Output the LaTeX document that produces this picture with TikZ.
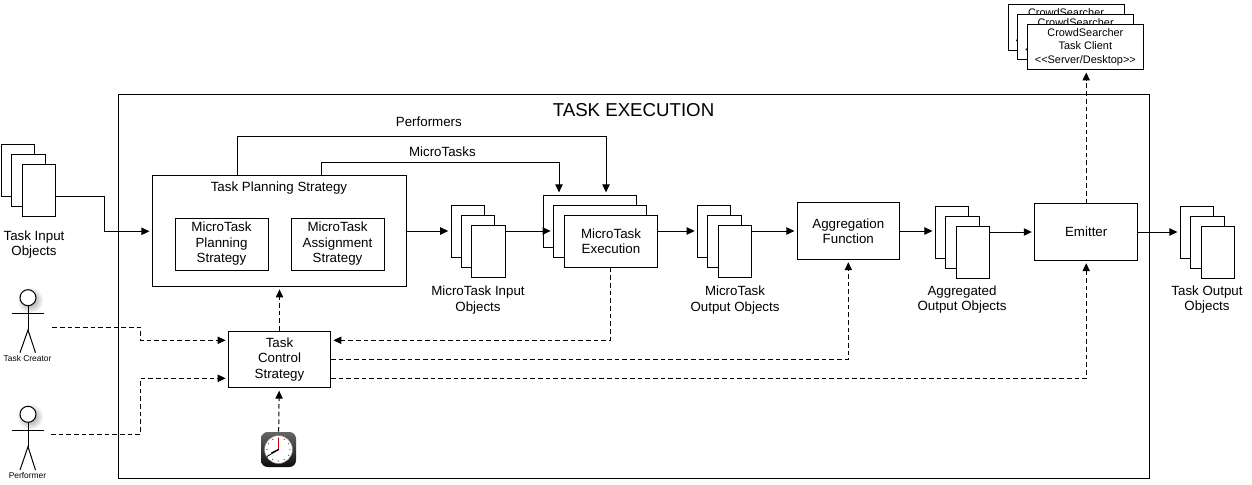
\documentclass[tikz,border=0pt]{standalone}
\usepackage{fontspec}
\setmainfont{Liberation Sans}
\usepackage{xcolor}
\usetikzlibrary{arrows.meta, positioning, calc}

\begin{document}
\begin{tikzpicture}[
    x=0.75pt,
    y=-0.75pt,
    >={Triangle[length=6pt,width=5.5pt]},
    every node/.style={align=center, font=\fontsize{10}{11.6}\selectfont}
]
    % Define styles
    \tikzstyle{box} = [rectangle, draw=black, fill=white, line width=0.75pt, inner sep=0pt, text centered]
    \tikzstyle{docsheet} = [box, minimum width=25pt, minimum height=39pt]
    \tikzstyle{wide} = [box, minimum width=69.75pt, minimum height=39pt]
    \tikzstyle{client} = [box, minimum width=87pt, minimum height=34pt, font=\fontsize{8.2}{10.3}\selectfont]
    \tikzstyle{tiny} = [font=\fontsize{6.3}{7}\selectfont]
    \tikzstyle{arrow} = [line width=0.75pt, ->, shorten >=1.8pt]
    \tikzstyle{dasharrow} = [arrow, dash pattern=on 3.5pt off 2.25pt]
    \tikzstyle{stick} = [line width=0.75pt]
    \tikzstyle{head} = [circle, draw=black, fill=white, line width=0.75pt, inner sep=0pt, minimum size=12pt]

    \useasboundingbox (0,0) rectangle (1252,485);

    % Outer frame
    \node [box, minimum width=773.25pt, minimum height=288pt] (frame) at (633.7,286.6) {};
    \node [font=\fontsize{14}{16}\selectfont] (title) at (633.5,110) {TASK EXECUTION};

    % Task input objects
    \node [docsheet] (inputa) at (18,170) {};
    \node [docsheet, below right=7.75pt and 7.75pt of inputa.north west] (inputb) {};
    \node [docsheet, below right=7.75pt and 7.75pt of inputb.north west] (inputc) {};
    \node (inputlabel) at (34,244.5) {Task Input\\Objects};

    % Planning strategy
    \node [box, minimum width=190.75pt, minimum height=83.25pt] (planning) at (279.5,231) {};
    \node (planninglabel) at (279,188) {Task Planning Strategy};
    \node [wide] (microplan) at (221.5,244) {MicroTask\\Planning\\Strategy};
    \node [wide, right=16.5pt of microplan] (microassign) {MicroTask\\Assignment\\Strategy};

    % MicroTask input objects
    \node [docsheet] (microina) at (467.8,231.3) {};
    \node [docsheet, below right=7.75pt and 7.75pt of microina.north west] (microinb) {};
    \node [docsheet, below right=7.75pt and 7.75pt of microinb.north west] (microinc) {};
    \node (microinlabel) at (478,300) {MicroTask Input\\Objects};

    % MicroTask execution
    \node [wide] (execa) at (590,221.3) {};
    \node [wide, below right=7.5pt and 7.5pt of execa.north west] (execb) {};
    \node [wide, below right=7.5pt and 8.25pt of execb.north west] (execc) {MicroTask\\Execution};

    % MicroTask output objects
    \node [docsheet] (microouta) at (714.3,231.3) {};
    \node [docsheet, below right=7.75pt and 7.75pt of microouta.north west] (microoutb) {};
    \node [docsheet, below right=7.75pt and 7.75pt of microoutb.north west] (microoutc) {};
    \node (microoutlabel) at (735,300) {MicroTask\\Output Objects};

    % Aggregation
    \node [box, minimum width=76.5pt, minimum height=42.5pt] (aggregation) at (848.3,231) {Aggregation\\Function};
    \node [docsheet] (aggra) at (952,232) {};
    \node [docsheet, below right=7.75pt and 7.75pt of aggra.north west] (aggrb) {};
    \node [docsheet, below right=7.75pt and 7.75pt of aggrb.north west] (aggrc) {};
    \node (aggrlabel) at (962,299.5) {Aggregated\\Output Objects};

    % Emitter
    \node [box, minimum width=77.25pt, minimum height=42.5pt] (emitter) at (1086.2,232) {Emitter};

    % Task output objects
    \node [docsheet] (outputa) at (1197,232) {};
    \node [docsheet, below right=7.75pt and 7.75pt of outputa.north west] (outputb) {};
    \node [docsheet, below right=7.75pt and 7.75pt of outputb.north west] (outputc) {};
    \node (outputlabel) at (1207,299.5) {Task Output\\Objects};

    % Clients
    \node [client] (clienta) at (1066,27.6) {CrowdSearcher\\Task Client\\<{}<Server/Desktop>{}>};
    \node [client, below right=7.25pt and 7.25pt of clienta.north west] (clientb) {CrowdSearcher\\Task Client\\<{}<Server/Desktop>{}>};
    \node [client, below right=7.25pt and 7.25pt of clientb.north west] (clientc) {CrowdSearcher\\Task Client\\<{}<Server/Desktop>{}>};

    % Control strategy
    \node [box, minimum width=76.5pt, minimum height=42.5pt, below=32.7pt of planning] (control) {Task\\Control\\Strategy};

    % Task creator
    \shade [inner color=black!45, outer color=white] (30,300) circle (10pt);
    \node [head] (creatorhead) at (28,297.7) {};
    \coordinate (creatorhip) at (28,330);
    \draw [stick] (creatorhead) -- (creatorhip);
    \draw [stick] (12,313.3) -- (44,313.3);
    \draw [stick] (20,352.7) -- (creatorhip) -- (35.5,352.7);
    \node [tiny] (creatorlabel) at (27.5,358) {Task Creator};
    \coordinate (creatorout) at (52.3,327.3);

    % Performer
    \shade [inner color=black!45, outer color=white] (30,416.6) circle (10pt);
    \node [head] (performerhead) at (28,414.3) {};
    \coordinate (performerhip) at (28,446.7);
    \draw [stick] (performerhead) -- (performerhip);
    \draw [stick] (12,430.3) -- (44,430.3);
    \draw [stick] (20,470) -- (performerhip) -- (35.5,470);
    \node [tiny] (performerlabel) at (27.5,475) {Performer};
    \coordinate (performerout) at (51,434.3);

    % Clock
    \node [rectangle, rounded corners=5pt, top color=black!60, bottom color=black!95, minimum size=26.25pt, inner sep=0pt] (clock) at (278.5,449.5) {};
    \fill [white] (clock.center) circle (10.5pt);
    \draw [black!50, line width=0.4pt] (clock.center) circle (10.5pt);
    \foreach \angle in {0,30,...,330}
        \fill [black!70] (clock.center) ++(\angle:11.5) circle (0.45pt);
    \draw [red!80!black, line width=0.7pt] (clock.center) -- ++(0,-12);
    \draw [black, line width=1pt] (clock.center) -- ++(-7,3.5);
    \draw [black, line width=0.6pt] (clock.center) -- ++(-11.5,7);

    % Data flow
    \draw [arrow] (inputc.east |- 0,196.3) -| (104.3,231.3) -- (planning.west |- 0,231.3);
    \draw [arrow] (planning) -- (microina.west |- planning);
    \draw [arrow] (microinc.east |- planning) -- (execb.west |- planning);
    \draw [arrow] (execc.east |- planning) -- (microouta.west |- planning);
    \draw [arrow] (microoutc.east |- planning) -- (aggregation);
    \draw [arrow] (aggregation) -- (aggra.west |- aggregation);
    \draw [arrow] (aggrc.east |- emitter) -- (emitter);
    \draw [arrow] (emitter) -- (outputa.west |- emitter);

    % Performers and MicroTasks
    \draw [arrow] (planning.north -| 237,0) -- (237,136) -| node [pos=0.26, above=3pt] (performerstext) {Performers} (execa.north -| 606,0);
    \draw [arrow] (planning.north -| 321,0) -- (321,162) -| node [pos=0.255, above=0pt] (microtaskstext) {MicroTasks} (execa.north -| 559,0);

    % Dashed control lines
    \draw [dasharrow] (control) -- (planning);
    \draw [dasharrow] (clock) -- (control);
    \draw [dasharrow] (execc.south -| 610.3,0) |- (control.east |- 0,340.3);
    \draw [dasharrow] (creatorout) -- (140.3,327.3) -- (140.3,340.3) -- (control.west |- 0,340.3);
    \draw [dasharrow] (performerout) -- (140.3,434.3) -- (140.3,378.3) -- (control.west |- 0,378.3);
    \draw [dasharrow] (control.east |- 0,359.3) -| (aggregation);
    \draw [dasharrow] (control.east |- 0,378.3) -| (emitter);
    \draw [dasharrow] (emitter) -- (clientc.south -| emitter);

\end{tikzpicture}
\end{document}
